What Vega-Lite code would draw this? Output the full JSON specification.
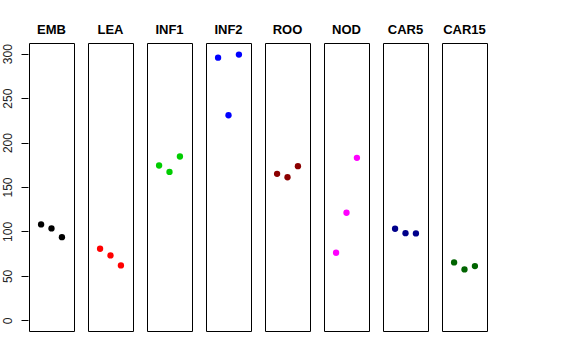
{
  "$schema": "https://vega.github.io/schema/vega-lite/v6.json",
  "padding": {"left": 0, "top": 24, "right": 5, "bottom": 5},
  "background": "white",
  "data": {"values": [
    {"tissue": "EMB", "rep": 1, "value": 107.9},
    {"tissue": "EMB", "rep": 2, "value": 103.4},
    {"tissue": "EMB", "rep": 3, "value": 93.6},
    {"tissue": "LEA", "rep": 1, "value": 80.5},
    {"tissue": "LEA", "rep": 2, "value": 73.0},
    {"tissue": "LEA", "rep": 3, "value": 61.8},
    {"tissue": "INF1", "rep": 1, "value": 174.2},
    {"tissue": "INF1", "rep": 2, "value": 167.0},
    {"tissue": "INF1", "rep": 3, "value": 184.3},
    {"tissue": "INF2", "rep": 1, "value": 295.5},
    {"tissue": "INF2", "rep": 2, "value": 230.7},
    {"tissue": "INF2", "rep": 3, "value": 299.0},
    {"tissue": "ROO", "rep": 1, "value": 164.8},
    {"tissue": "ROO", "rep": 2, "value": 161.0},
    {"tissue": "ROO", "rep": 3, "value": 173.4},
    {"tissue": "NOD", "rep": 1, "value": 76.0},
    {"tissue": "NOD", "rep": 2, "value": 121.0},
    {"tissue": "NOD", "rep": 3, "value": 182.8},
    {"tissue": "CAR5", "rep": 1, "value": 103.0},
    {"tissue": "CAR5", "rep": 2, "value": 98.1},
    {"tissue": "CAR5", "rep": 3, "value": 97.8},
    {"tissue": "CAR15", "rep": 1, "value": 65.2},
    {"tissue": "CAR15", "rep": 2, "value": 57.3},
    {"tissue": "CAR15", "rep": 3, "value": 61.0}
  ]},
  "facet": {
    "column": {
      "field": "tissue",
      "type": "nominal",
      "sort": ["EMB", "LEA", "INF1", "INF2", "ROO", "NOD", "CAR5", "CAR15"],
      "header": {
        "title": null,
        "labelFont": "Liberation Sans",
        "labelFontWeight": "bold",
        "labelFontSize": 13,
        "labelColor": "black",
        "labelPadding": 5
      }
    }
  },
  "spacing": 12,
  "spec": {
    "width": 45,
    "height": 288,
    "mark": {"type": "circle", "size": 40, "opacity": 1},
    "encoding": {
      "x": {"field": "rep", "type": "quantitative", "scale": {"domain": [-0.16, 4.16], "nice": false, "zero": false}, "axis": null},
      "y": {
        "field": "value",
        "type": "quantitative",
        "scale": {"domain": [-12, 312], "nice": false, "zero": false},
        "axis": {
          "title": null,
          "values": [0, 50, 100, 150, 200, 250, 300],
          "domain": false,
          "grid": false,
          "tickSize": 7,
          "tickColor": "black",
          "labelAngle": -90,
          "labelFont": "Liberation Sans",
          "labelFontSize": 12,
          "labelColor": "#222222",
          "labelPadding": 7
        }
      },
      "color": {
        "field": "tissue",
        "type": "nominal",
        "scale": {
          "domain": ["EMB", "LEA", "INF1", "INF2", "ROO", "NOD", "CAR5", "CAR15"],
          "range": ["#000000", "#FF0000", "#00CD00", "#0000FF", "#8B0000", "#FF00FF", "#00008B", "#006400"]
        },
        "legend": null
      }
    }
  },
  "config": {
    "view": {"stroke": "black", "strokeWidth": 1}
  }
}
